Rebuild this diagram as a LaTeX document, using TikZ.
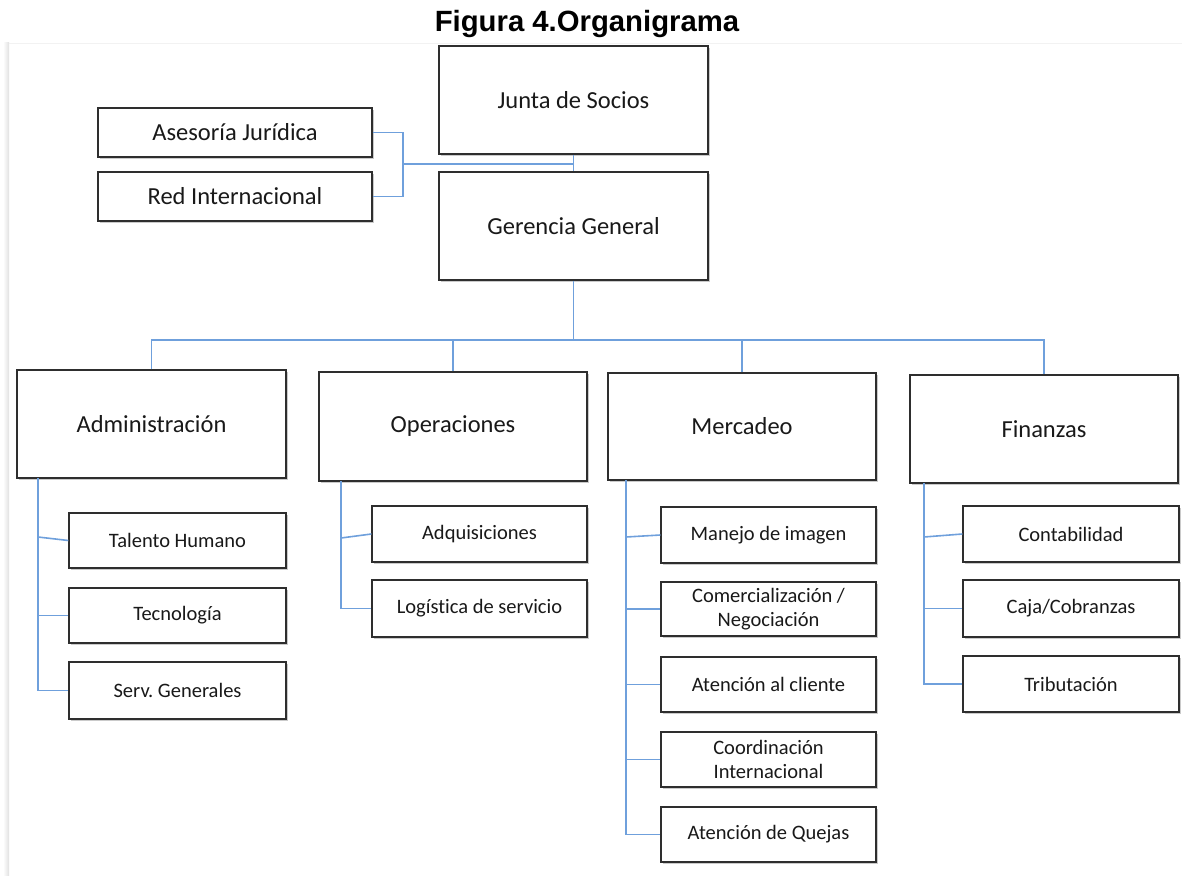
\documentclass[tikz,border=0pt]{standalone}
\usepackage{fontspec}
\setmainfont{Carlito}[Ligatures=NoCommon]
\newfontfamily\titlefont{Liberation Sans}
\usetikzlibrary{shadows}
\definecolor{linkblue}{HTML}{6FA0DC}
\definecolor{boxline}{HTML}{2E2E2E}
\tikzset{
  unitbox/.style={draw=boxline, line width=1.3pt, fill=white, inner sep=0pt, align=center,
    text=black!90,
    drop shadow={shadow xshift=1.8pt, shadow yshift=-2.2pt, opacity=0.35, fill=black!60}},
  bigbox/.style={unitbox, font=\fontsize{24.5}{28}\selectfont},
  smallbox/.style={unitbox, font=\fontsize{20.5}{24}\selectfont},
  link/.style={draw=linkblue, line width=1.6pt}
}
\frenchspacing
\begin{document}
\begin{tikzpicture}[x=1pt, y=-1pt]
\useasboundingbox (0,0) rectangle (1182,875);
% page edge
\fill[left color=white, right color=black!12] (3,43) rectangle (9,875);
\draw[black!5, line width=0.8pt] (9,43) -- (1182,43);

% title
\node[anchor=base, font=\titlefont\bfseries\fontsize{29.3}{33}\selectfont] (title) at (587,32) {Figura 4.Organigrama};

% top level
\node[bigbox, minimum width=269, minimum height=108] (junta) at (573.5,100) {Junta de Socios};
\node[bigbox, minimum width=269, minimum height=108] (gerencia) at (573.5,226) {Gerencia General};
\node[bigbox, minimum width=274, minimum height=49] (asesoria) at (235,132.5) {Asesoría Jurídica};
\node[bigbox, minimum width=274, minimum height=49] (red) at (235,196.5) {Red Internacional};

% departments
\node[bigbox, minimum width=269, minimum height=108] (adm) at (151.5,424) {Administración};
\node[bigbox, minimum width=268, minimum height=109] (ope) at (453,426.5) {Operaciones};
\node[bigbox, minimum width=268, minimum height=107] (mer) at (742,426.5) {Mercadeo};
\node[bigbox, minimum width=268, minimum height=108] (fin) at (1044,429) {Finanzas};

% administration units
\node[smallbox, minimum width=217, minimum height=55] (tal) at (177.5,540.5) {Talento Humano};
\node[smallbox, minimum width=217, minimum height=55] (tec) at (177.5,615.5) {Tecnología};
\node[smallbox, minimum width=217, minimum height=57] (ser) at (177.5,690.5) {Serv. Generales};

% operations units
\node[smallbox, minimum width=215, minimum height=56] (adq) at (479.5,534) {Adquisiciones};
\node[smallbox, minimum width=215, minimum height=57] (log) at (479.5,608.5) {Logística de servicio};

% marketing units
\node[smallbox, minimum width=215, minimum height=56] (man) at (768.5,535) {Manejo de imagen};
\node[smallbox, minimum width=215, minimum height=54] (com) at (768.5,609) {Comercialización /\\Negociación};
\node[smallbox, minimum width=215, minimum height=55] (ate) at (768.5,684.5) {Atención al cliente};
\node[smallbox, minimum width=215, minimum height=55] (coo) at (768.5,759.5) {Coordinación\\Internacional};
\node[smallbox, minimum width=215, minimum height=55] (que) at (768.5,834.5) {Atención de Quejas};

% finance units
\node[smallbox, minimum width=216, minimum height=56] (con) at (1071,534) {Contabilidad};
\node[smallbox, minimum width=216, minimum height=57] (caj) at (1071,608.5) {Caja/Cobranzas};
\node[smallbox, minimum width=216, minimum height=56] (tri) at (1071,684) {Tributación};

% upper connectors
\coordinate (mid) at (573.5,164);
\coordinate (brk) at (403,164);
\coordinate (bus) at (573.5,340);
\draw[link] (junta.south) -- (gerencia.north);
\draw[link] (asesoria.east) -| (brk) |- (red.east);
\draw[link] (brk) -- (mid);
\draw[link] (gerencia.south) -- (bus);
\draw[link] (adm.north) |- (bus);
\draw[link] (ope.north) |- (bus);
\draw[link] (mer.north) |- (bus);
\draw[link] (fin.north) |- (bus);

% administration spine
\coordinate (admtop) at (38,478);
\coordinate (admtal) at (38,537);
\draw[link] (admtop) |- (ser.west);
\draw[link] (admtal) -- (tal.west);
\draw[link] (admtop |- tec.west) -- (tec.west);

% operations spine
\coordinate (opetop) at (341,481);
\coordinate (opeadq) at (341,538);
\draw[link] (opetop) |- (log.west);
\draw[link] (opeadq) -- (adq.west);

% marketing spine
\coordinate (mertop) at (626,480);
\coordinate (merman) at (626,537);
\draw[link] (mertop) |- (que.west);
\draw[link] (merman) -- (man.west);
\draw[link] (mertop |- com.west) -- (com.west);
\draw[link] (mertop |- ate.west) -- (ate.west);
\draw[link] (mertop |- coo.west) -- (coo.west);

% finance spine
\coordinate (fintop) at (924,483);
\coordinate (fincon) at (924,537);
\draw[link] (fintop) |- (tri.west);
\draw[link] (fincon) -- (con.west);
\draw[link] (fintop |- caj.west) -- (caj.west);
\end{tikzpicture}
\end{document}
